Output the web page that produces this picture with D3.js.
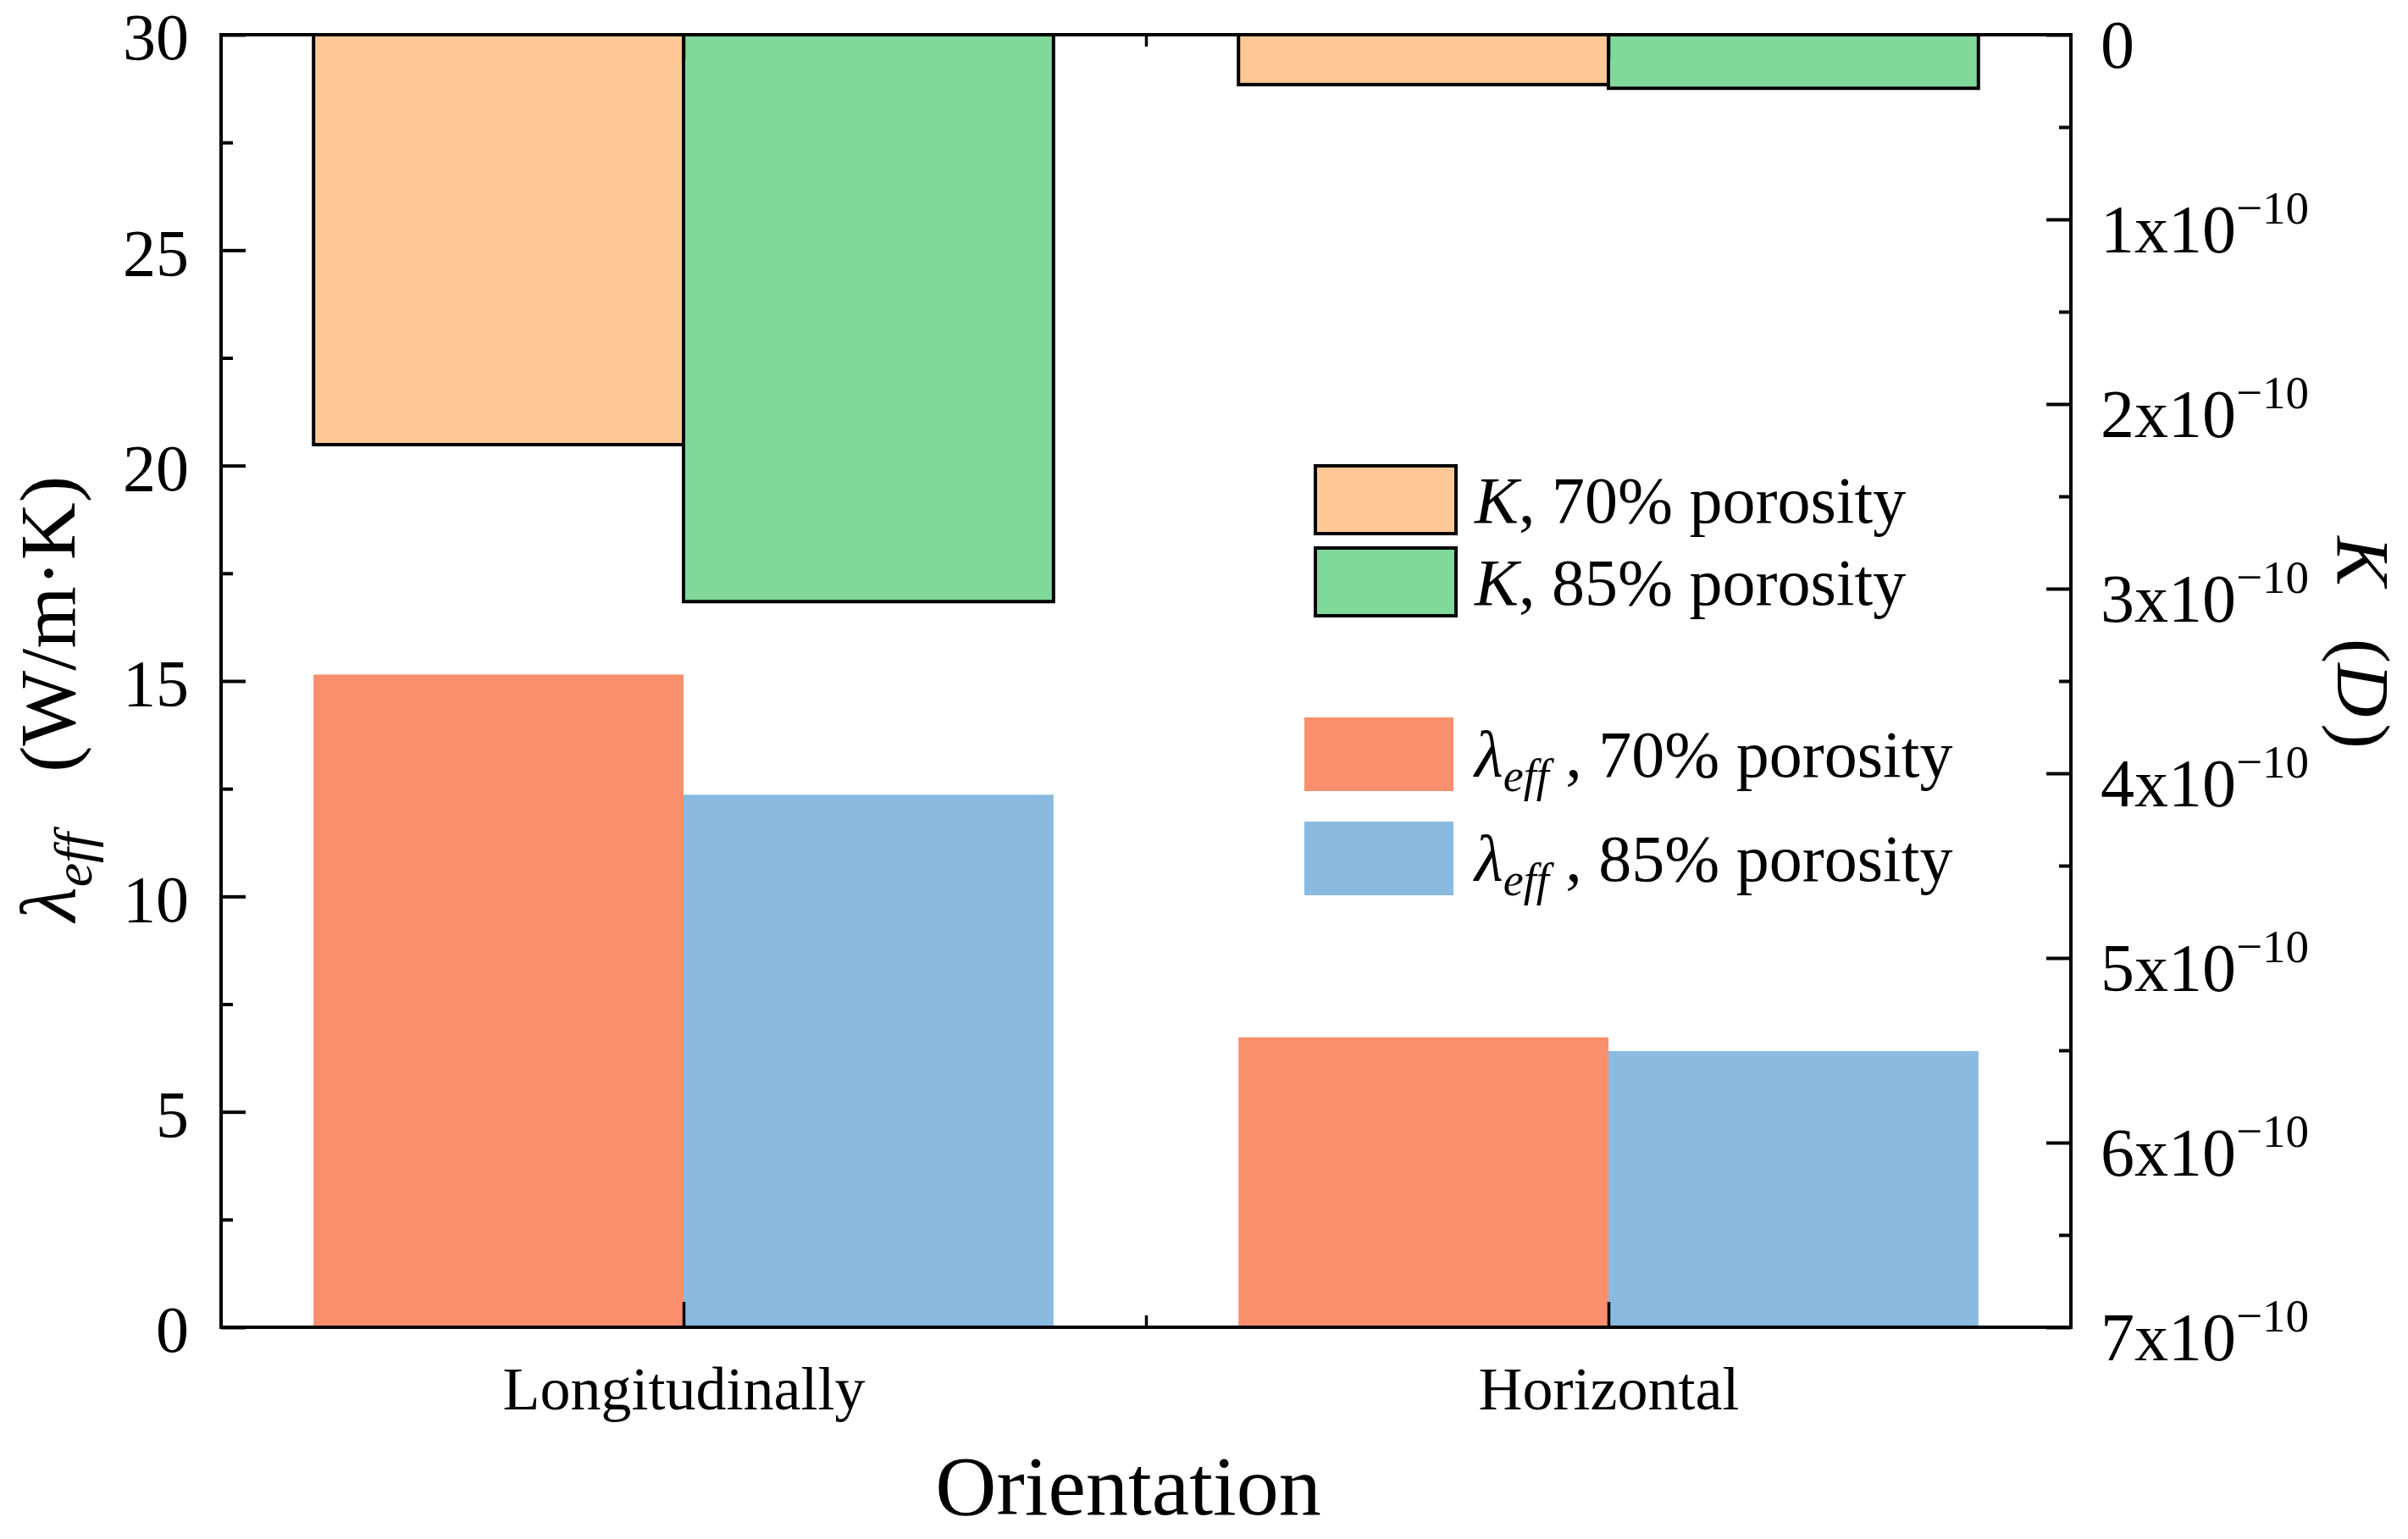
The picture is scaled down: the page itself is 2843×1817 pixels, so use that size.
<!DOCTYPE html>
<html>
<head>
<meta charset="utf-8">
<script src="https://cdn.jsdelivr.net/npm/d3@7"></script>
<style>
  body { margin: 0; background: #fff; }
  svg { display: block; }
</style>
</head>
<body>
<div id="chart"></div>
<script>
// data
const categories = ["Longitudinally", "Horizontal"];
const porosities = ["70%", "85%"];
const lambda70 = [15.15, 6.73];            // W/m·K
const lambda85 = [12.36, 6.41];
const perm70 = [2.22e-10, 0.27e-10];      // D
const perm85 = [3.07e-10, 0.29e-10];
const leftTicks = [0, 5, 10, 15, 20, 25, 30];
const leftMinor = [2.5, 7.5, 12.5, 17.5, 22.5, 27.5];
const rightTicks = [0, 1, 2, 3, 4, 5, 6, 7];      // x10^-10
const rightMinor = [0.5, 1.5, 2.5, 3.5, 4.5, 5.5, 6.5];
const kLegend = [", 70% porosity", ", 85% porosity"];
const lambdaLegend = [" , 70% porosity", " , 85% porosity"];

const width = 2843;
const height = 1817;
const marginLeft = 261;
const marginRight = 398;
const marginTop = 41;
const marginBottom = 250;
const font = "'Liberation Serif', 'Times New Roman', 'Noto Sans CJK SC', serif";

const colLambda = ["#F98F6D", "#8ABADF"];
const colK = ["#FFC896", "#80D89A"];

const x0 = d3.scaleBand(categories, [marginLeft, width - marginRight])
  .paddingInner(0.2)
  .paddingOuter(0.1);
const x1 = d3.scaleBand(porosities, [0, x0.bandwidth()]);
// positional scale for the category ticks (Origin style, 0.5 .. 2.5)
const xi = d3.scaleLinear([0.5, categories.length + 0.5], [marginLeft, width - marginRight]);

const yL = d3.scaleLinear([0, 30], [height - marginBottom, marginTop]);
const yR = d3.scaleLinear([0, 7], [marginTop, height - marginBottom]);

const svg = d3.select("#chart")
  .append("svg")
  .attr("width", width)
  .attr("height", height)
  .attr("viewBox", [0, 0, width, height])
  .style("font-family", font);

const lambdaRows = categories.map((c, i) => ({ c, v: [lambda70[i], lambda85[i]] }));
const kRows = categories.map((c, i) => ({ c, v: [perm70[i] * 1e10, perm85[i] * 1e10] }));

// lambda bars, growing up from 0
svg.append("g")
  .selectAll("g")
  .data(lambdaRows)
  .join("g")
  .attr("transform", (d) => `translate(${x0(d.c)},0)`)
  .selectAll("rect")
  .data((d) => d.v.map((v, j) => ({ p: porosities[j], v, j })))
  .join("rect")
  .attr("x", (d) => x1(d.p))
  .attr("width", x1.bandwidth())
  .attr("y", (d) => yL(d.v))
  .attr("height", (d) => yL(0) - yL(d.v))
  .attr("fill", (d) => colLambda[d.j]);

// permeability bars, hanging down from the reversed right axis
svg.append("g")
  .selectAll("g")
  .data(kRows)
  .join("g")
  .attr("transform", (d) => `translate(${x0(d.c)},0)`)
  .selectAll("rect")
  .data((d) => d.v.map((v, j) => ({ p: porosities[j], v, j })))
  .join("rect")
  .attr("x", (d) => x1(d.p))
  .attr("width", x1.bandwidth())
  .attr("y", yR(0))
  .attr("height", (d) => yR(d.v) - yR(0))
  .attr("fill", (d) => colK[d.j])
  .attr("stroke", "#000")
  .attr("stroke-width", 4);

function styleAxis(g, w) {
  g.select(".domain").remove();
  g.selectAll(".tick line").attr("stroke", "#000").attr("stroke-width", w);
  g.selectAll(".tick text").attr("fill", "#000").style("font-family", font);
}

// left axis
svg.append("g")
  .attr("transform", `translate(${marginLeft},0)`)
  .call(d3.axisLeft(yL).tickValues(leftTicks).tickSize(-29).tickPadding(38).tickFormat(d3.format("d")))
  .call((g) => styleAxis(g, 4))
  .call((g) => g.selectAll(".tick text").style("font-size", "78px").attr("dy", "0.37em"));
svg.append("g")
  .attr("transform", `translate(${marginLeft},0)`)
  .call(d3.axisLeft(yL).tickValues(leftMinor).tickSize(-14).tickFormat(""))
  .call((g) => styleAxis(g, 4));

// right axis
svg.append("g")
  .attr("transform", `translate(${width - marginRight},0)`)
  .call(d3.axisRight(yR).tickValues(rightTicks).tickSize(-29).tickPadding(35).tickFormat(""))
  .call((g) => styleAxis(g, 4))
  .call((g) => g.selectAll(".tick text")
    .style("font-size", "80px")
    .attr("dy", "0.48em")
    .each(function (d) {
      const t = d3.select(this);
      if (d === 0) { t.text("0"); return; }
      t.append("tspan").text(`${d}x10`);
      t.append("tspan").style("font-size", "55px").attr("dy", -34).text("\u221210");
    }));
svg.append("g")
  .attr("transform", `translate(${width - marginRight},0)`)
  .call(d3.axisRight(yR).tickValues(rightMinor).tickSize(-14).tickFormat(""))
  .call((g) => styleAxis(g, 4));

// bottom axis with category labels
const catTicks = categories.map((c, i) => i + 1);
const midTicks = d3.range(1, categories.length).map((i) => i + 0.5);
svg.append("g")
  .attr("transform", `translate(0,${height - marginBottom})`)
  .call(d3.axisBottom(xi).tickValues(catTicks).tickSize(-30).tickPadding(46)
    .tickFormat((d) => categories[d - 1]))
  .call((g) => styleAxis(g, 3.5))
  .call((g) => g.selectAll(".tick text").style("font-size", "72px"));
svg.append("g")
  .attr("transform", `translate(0,${height - marginBottom})`)
  .call(d3.axisBottom(xi).tickValues(midTicks).tickSize(-14).tickFormat(""))
  .call((g) => styleAxis(g, 3.5));

// top axis
svg.append("g")
  .attr("transform", `translate(0,${marginTop})`)
  .call(d3.axisTop(xi).tickValues(catTicks).tickSize(-30).tickFormat(""))
  .call((g) => styleAxis(g, 3.5));
svg.append("g")
  .attr("transform", `translate(0,${marginTop})`)
  .call(d3.axisTop(xi).tickValues(midTicks).tickSize(-14).tickFormat(""))
  .call((g) => styleAxis(g, 3.5));

// frame
svg.append("rect")
  .attr("x", marginLeft)
  .attr("y", marginTop)
  .attr("width", width - marginLeft - marginRight)
  .attr("height", height - marginTop - marginBottom)
  .attr("fill", "none")
  .attr("stroke", "#000")
  .attr("stroke-width", 4);

// axis titles
svg.append("text")
  .attr("x", 1332)
  .attr("y", 1788)
  .attr("text-anchor", "middle")
  .style("font-size", "100px")
  .text("Orientation");

// left title, serif parens with a wide gap like the full-width ones
const leftTitle = svg.append("text")
  .attr("text-anchor", "start")
  .style("font-size", "94px")
  .style("font-family", "'Liberation Serif', serif");
leftTitle.append("tspan").style("font-style", "italic").text("λ");
leftTitle.append("tspan").style("font-style", "italic").style("font-size", "64px").attr("dy", 20).text("eff");
const gap = leftTitle.append("tspan").attr("dy", -20).text("(");
leftTitle.append("tspan").text("W/m·K)");
const titleLen = 526;
const len0 = leftTitle.node().getComputedTextLength();
gap.attr("dx", Math.max(12, titleLen - len0));
leftTitle.attr("transform", `translate(88,${825 + titleLen / 2}) rotate(-90)`);

// right title
const rightTitle = svg.append("text")
  .attr("transform", "translate(2760,633) rotate(90)")
  .attr("text-anchor", "start")
  .style("font-size", "88px")
  .style("font-family", "'Liberation Serif', serif");
rightTitle.append("tspan").style("font-style", "italic").text("K");
rightTitle.append("tspan").attr("dx", 62).text("(");
rightTitle.append("tspan").style("font-style", "italic").text("D");
rightTitle.append("tspan").attr("dx", 8).text(")");

// legend
const legK = svg.append("g");
kLegend.forEach((label, i) => {
  const y = 550 + i * 97;
  legK.append("rect")
    .attr("x", 1553).attr("y", y)
    .attr("width", 166).attr("height", 80)
    .attr("fill", colK[i]).attr("stroke", "#000").attr("stroke-width", 4);
  const t = legK.append("text")
    .attr("x", 1741).attr("y", y + 67)
    .style("font-size", "78px");
  t.append("tspan").style("font-style", "italic").text("K");
  t.append("tspan").text(label);
});

const legL = svg.append("g");
lambdaLegend.forEach((label, i) => {
  const y = 847 + i * 123;
  legL.append("rect")
    .attr("x", 1540).attr("y", y)
    .attr("width", 176).attr("height", 87)
    .attr("fill", colLambda[i]);
  const t = legL.append("text")
    .attr("x", 1741).attr("y", y + 70)
    .style("font-size", "78px");
  t.append("tspan").style("font-style", "italic").text("λ");
  t.append("tspan").style("font-style", "italic").style("font-size", "54px").attr("dy", 17).text("eff");
  t.append("tspan").attr("dy", -17).text(label);
});
</script>
</body>
</html>
